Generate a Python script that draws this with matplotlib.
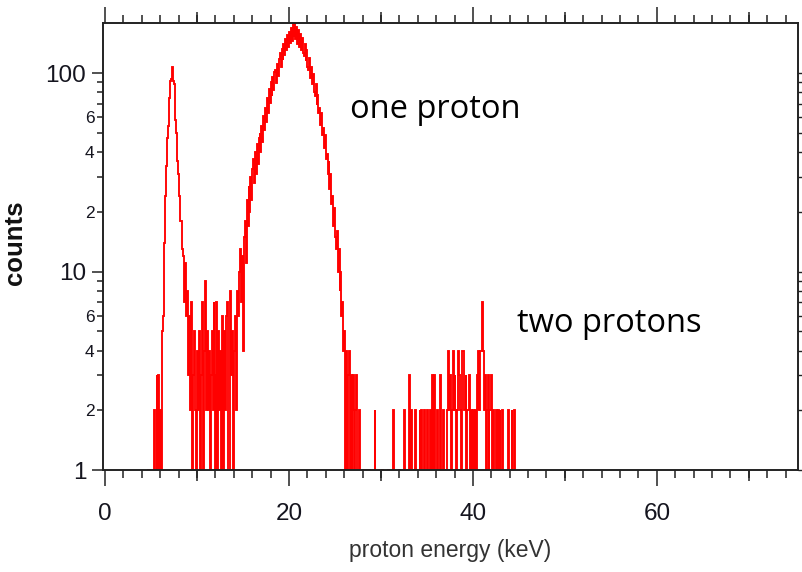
import numpy as np
import matplotlib
matplotlib.use("Agg")
import matplotlib.pyplot as plt
from matplotlib.ticker import FixedLocator, LogLocator, FuncFormatter, MultipleLocator, NullFormatter

# ---- spectrum binning (keV) ----
bin_width = 0.1
spectrum_start = 4.5
spectrum_end = 45.0

# counts per 0.1 keV bin, contiguous from 4.5 keV
counts_onset = [0, 0, 1, 0, 0, 0, 0, 0, 2, 0, 1, 3, 0, 3, 1, 2, 0, 5, 6]          # 4.5 - 6.3
counts_low_peak = [14, 24, 34, 47, 54, 66, 75, 91, 94, 107, 91, 88, 58, 50, 36,
                   31, 24, 22, 18, 18, 13]                                      # 6.4 - 8.4
counts_valley = [12, 7, 11, 6, 8, 3, 6, 2, 5, 7, 0, 3, 5, 2, 1, 4, 2, 5, 0, 3,
                 7, 2, 0, 4, 9, 2, 5, 2, 4, 0, 3, 5, 2, 7, 3, 0, 7, 1, 5, 2,
                 4, 0, 6, 1, 5, 2, 4, 6, 7, 0, 1, 8, 3, 5, 0, 4, 6, 2, 5, 8]    # 8.5 - 14.4
counts_main_peak = [6, 10, 13, 7, 12, 4, 15, 18, 11, 23,
                    17, 27, 20, 30, 23, 33, 37, 28, 40, 31,
                    44, 35, 47, 50, 40, 54, 45, 61, 52, 67,
                    57, 75, 63, 83, 71, 90, 77, 96, 82, 101,
                    104, 89, 111, 97, 118, 126, 108, 133, 116, 141,
                    123, 148, 131, 155, 136, 162, 142, 168, 146, 176,
                    152, 178, 148, 171, 141, 165, 135, 157, 131, 151,
                    127, 122, 141, 115, 131, 107, 104, 119, 95, 107,
                    88, 99, 80, 77, 88, 69, 78, 63, 67, 55,
                    63, 49, 53, 42, 49, 37, 39, 31, 36, 26,
                    31, 22, 24, 17, 21, 15, 13, 16, 10, 13,
                    8, 10, 6, 7, 4, 5, 1, 4, 0, 3,
                    4, 1, 3, 0, 2, 3, 0, 2, 3, 0,
                    0, 2, 0, 0, 0]                                              # 14.5 - 27.9

# sparse two-proton region: bin start energy (keV) and counts
tail_energy = [28.0, 28.1, 28.3, 28.4, 28.6, 28.7, 29.3, 30.1, 30.8, 31.3,
               32.0, 32.5, 32.8, 33.1, 33.3, 33.5, 33.7, 33.9, 34.0, 34.2,
               34.4, 34.5, 34.7, 34.9, 35.0, 35.1, 35.3, 35.4, 35.6, 35.8,
               35.9, 36.1, 36.2, 36.4, 36.5, 36.6, 36.8, 37.0, 37.2, 37.3,
               37.4, 37.5, 37.6, 37.7, 37.8, 37.9, 38.0, 38.1, 38.2, 38.3,
               38.4, 38.5, 38.6, 38.7, 38.8, 38.9, 39.0, 39.1, 39.2, 39.3,
               39.4, 39.5, 39.6, 39.7, 39.8, 39.9, 40.0, 40.1, 40.2, 40.4,
               40.5, 40.6, 40.7, 40.8, 40.9, 41.0, 41.1, 41.2, 41.3, 41.4,
               41.5, 41.6, 41.7, 41.8, 41.9, 42.0, 42.1, 42.2, 42.3, 42.5,
               42.6, 42.7, 42.9, 43.0, 43.2, 43.8, 44.2, 44.5]
tail_counts = [1, 1, 1, 1, 1, 1, 2, 1, 1, 2,
               1, 2, 1, 3, 2, 1, 2, 1, 1, 2,
               2, 1, 2, 1, 2, 1, 2, 1, 3, 3,
               1, 2, 1, 3, 1, 1, 2, 1, 2, 4,
               2, 3, 1, 2, 4, 2, 3, 2, 1, 2,
               4, 3, 2, 1, 4, 4, 2, 2, 3, 1,
               2, 2, 3, 1, 2, 1, 2, 1, 2, 3,
               2, 4, 2, 4, 4, 7, 4, 2, 3, 1,
               2, 3, 1, 2, 2, 3, 1, 2, 1, 2,
               1, 2, 2, 1, 2, 2, 2, 2]

# ---- axis settings ----
x_limits = (-0.22, 75.3)
y_limits = (1.0, 180.0)
x_major_ticks = [0, 20, 40, 60]
x_mid_ticks = [10, 30, 50, 70]
y_major_ticks = [1, 10, 100]
y_labelled_minor = (2, 4, 6)

annotations = [("one proton", 0.356, 0.787), ("two protons", 0.596, 0.308)]

# ---- assemble histogram ----
dense = counts_onset + counts_low_peak + counts_valley + counts_main_peak
n_bins = int(round((spectrum_end - spectrum_start) / bin_width))
counts = np.zeros(n_bins)
counts[:len(dense)] = dense
for e, c in zip(tail_energy, tail_counts):
    counts[int(round((e - spectrum_start) / bin_width))] = c
edges = spectrum_start + bin_width * np.arange(n_bins + 1)
# empty channels drop below the log axis floor
shown = np.where(counts > 0, counts, 0.3)

plt.rcParams['font.family'] = ['Liberation Sans', 'DejaVu Sans']

fig = plt.figure(figsize=(8.03, 5.72), dpi=100)
ax = fig.add_axes([0.1283, 0.1783, 0.8649, 0.7823])
ax_right = ax.twinx()
ax_mid = ax.twiny()

ax.stairs(shown, edges, color='#ff0000', linewidth=1.35, baseline=None)

ax.set_xlim(*x_limits)
ax.set_yscale('log')
ax.set_ylim(*y_limits)

tick_color = '#15151f'
spine_color = '#222222'

# x ticks
ax.xaxis.set_major_locator(FixedLocator(x_major_ticks))
ax.xaxis.set_minor_locator(MultipleLocator(2))
ax.xaxis.set_major_formatter(FuncFormatter(lambda v, p: f"{v:g}"))

# y ticks
ax.yaxis.set_major_locator(FixedLocator(y_major_ticks))
ax.yaxis.set_minor_locator(LogLocator(base=10, subs=np.arange(2, 10), numticks=20))
ax.yaxis.set_major_formatter(FuncFormatter(lambda v, p: f"{v:g}"))


def minor_label(v, pos):
    m = int(round(v / 10 ** np.floor(np.log10(v) + 1e-9)))
    return str(m) if m in y_labelled_minor else ''


ax.yaxis.set_minor_formatter(FuncFormatter(minor_label))

ax.tick_params(axis='x', which='major', direction='out', length=11.5, width=1.1,
               top=True, bottom=True, labelsize=17.5, pad=12.5, color=spine_color,
               labelcolor=tick_color)
ax.tick_params(axis='x', which='minor', direction='out', length=5.8, width=1.1,
               top=True, bottom=True, color=spine_color)
ax.tick_params(axis='y', which='major', direction='out', length=8, width=1.1,
               left=True, right=False, labelsize=17.5, pad=4, color=spine_color,
               labelcolor=tick_color)
ax.tick_params(axis='y', which='minor', direction='out', length=4.3, width=1.1,
               left=True, right=False, labelsize=12.5, pad=2, color=spine_color,
               labelcolor=tick_color)

# right-hand ticks (shorter)
ax_right.set_yscale('log')
ax_right.set_ylim(*y_limits)
ax_right.yaxis.set_major_locator(FixedLocator(y_major_ticks))
ax_right.yaxis.set_minor_locator(LogLocator(base=10, subs=np.arange(2, 10), numticks=20))
ax_right.yaxis.set_major_formatter(NullFormatter())
ax_right.yaxis.set_minor_formatter(NullFormatter())
ax_right.tick_params(axis='y', which='major', direction='out', length=4.5, width=1.0,
                     right=True, left=False, color=spine_color)
ax_right.tick_params(axis='y', which='minor', direction='out', length=3.0, width=1.0,
                     right=True, left=False, color=spine_color)

# mid-length ticks at the odd tens on top and bottom
ax_mid.set_xlim(*x_limits)
ax_mid.xaxis.set_major_locator(FixedLocator(x_mid_ticks))
ax_mid.xaxis.set_minor_locator(FixedLocator([]))
ax_mid.xaxis.set_major_formatter(NullFormatter())
ax_mid.tick_params(axis='x', which='major', direction='out', length=8, width=1.1,
                   top=True, bottom=True, labeltop=False, labelbottom=False,
                   color=spine_color)

for a in (ax_right, ax_mid):
    for s in a.spines.values():
        s.set_visible(False)
for s in ax.spines.values():
    s.set_linewidth(1.4)
    s.set_color(spine_color)

ax.set_ylabel('counts', fontsize=18.5, fontweight='bold', color='#111111')
ax.yaxis.set_label_coords(-0.109, 0.507)
ax.set_xlabel('proton energy (keV)', fontsize=16.5, color='#333333')
ax.xaxis.set_label_coords(0.5, -0.155)

for text, tx, ty in annotations:
    ax.text(tx, ty, text, transform=ax.transAxes, fontsize=23.5,
            family=['Open Sans', 'DejaVu Sans'], color='black',
            ha='left', va='baseline')

fig.savefig('out.png', dpi=100)
